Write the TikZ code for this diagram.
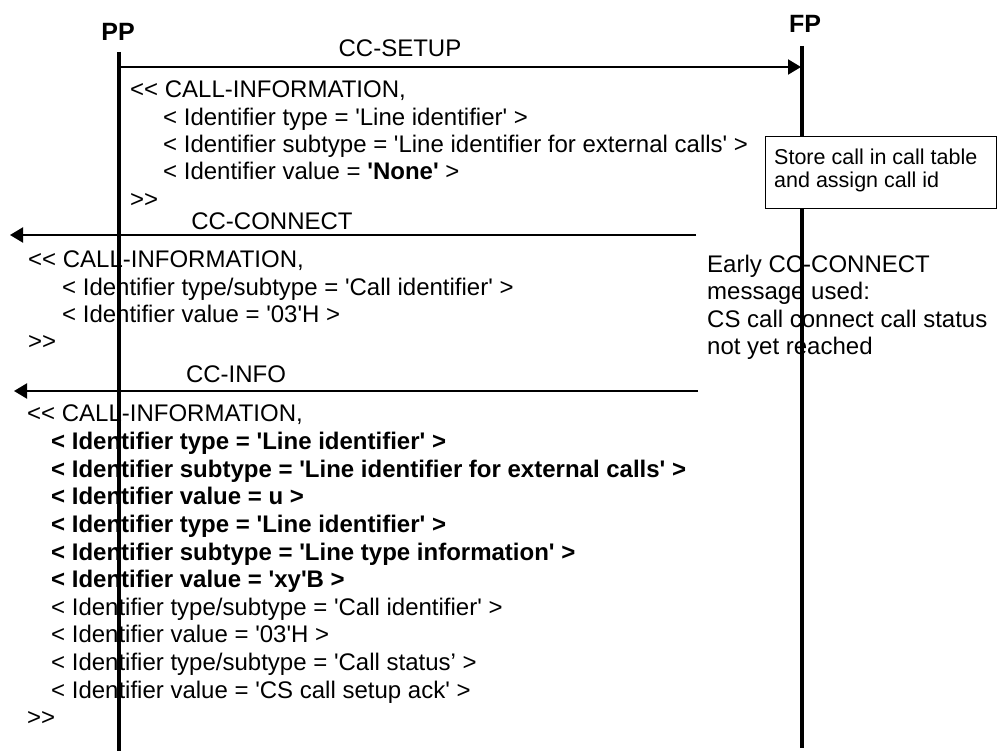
\documentclass[tikz,border=0pt]{standalone}
\usepackage{fontspec}
\setmainfont{Liberation Sans}
\usetikzlibrary{arrows.meta}
\newcommand\q{\textquotesingle}
\begin{document}
\begin{tikzpicture}[x=1pt,y=-1pt,
  txt/.style={anchor=base west,inner sep=0pt,font=\fontsize{24}{28}\selectfont},
  boxtxt/.style={anchor=base west,inner sep=0pt,font=\fontsize{21.5}{24}\selectfont},
  lbl/.style={anchor=base,inner sep=0pt,font=\fontsize{24}{28}\selectfont},
  ent/.style={anchor=base,inner sep=0pt,font=\fontsize{25}{28}\selectfont\bfseries},
  life/.style={line width=4pt},
  msg/.style={line width=2pt,-{Triangle[length=13pt,width=15pt]}},
  notebox/.style={draw,line width=1.2pt,fill=white,anchor=north west,inner sep=0pt,minimum width=231pt,minimum height=72pt}]
\useasboundingbox (0,0) rectangle (997,751);
% entity labels
\node[ent] (pp) at (118,41) {PP};
\node[ent] (fp) at (805,33) {FP};
% lifeline coordinates
\coordinate (pptop) at (119,52);
\coordinate (ppbot) at (119,751);
\coordinate (fptop) at (802,46);
\coordinate (fpbot) at (802,748);
% message endpoints
\coordinate (setupS) at (121,67);
\coordinate (setupE) at (801,67);
\coordinate (connS) at (696,235);
\coordinate (connE) at (10,235);
\coordinate (infoS) at (698,391);
\coordinate (infoE) at (14,391);
% message labels
\node[lbl] (lsetup) at (400,57) {CC-SETUP};
\node[lbl] (lconn) at (272,230) {CC-CONNECT};
\node[lbl] (linfo) at (236,383) {CC-INFO};
% CC-SETUP contents
\node[txt] (s1) at (130,98) {<{}< CALL-INFORMATION,};
\node[txt] (s2) at (163,125.3) {< Identifier type = \q Line identifier\q{} >};
\node[txt] (s3) at (163,152.6) {< Identifier subtype = \q Line identifier for external calls\q{} >};
\node[txt] (s4) at (163,179.9) {< Identifier value = \textbf{\q None\q} >};
\node[txt] (s5) at (130,207.2) {>{}>};
% CC-CONNECT contents
\node[txt] (c1) at (28,268) {<{}< CALL-INFORMATION,};
\node[txt] (c2) at (62,295.5) {< Identifier type/subtype = \q Call identifier\q{} >};
\node[txt] (c3) at (62,323) {< Identifier value = \q 03\q H >};
\node[txt] (c4) at (28,350) {>{}>};
% note
\node[txt] (e1) at (707,273) {Early CC-CONNECT};
\node[txt] (e2) at (707,300) {message used:};
\node[txt] (e3) at (707,327.5) {CS call connect call status};
\node[txt] (e4) at (707,354.5) {not yet reached};
% CC-INFO contents
\node[txt] (i1) at (27,422) {<{}< CALL-INFORMATION,};
\node[txt] (i2) at (51,449.6) {\bfseries < Identifier type = \q Line identifier\q{} >};
\node[txt] (i3) at (51,477.2) {\bfseries < Identifier subtype = \q Line identifier for external calls\q{} >};
\node[txt] (i4) at (51,504.8) {\bfseries < Identifier value = u >};
\node[txt] (i5) at (51,532.4) {\bfseries < Identifier type = \q Line identifier\q{} >};
\node[txt] (i6) at (51,560) {\bfseries < Identifier subtype = \q Line type information\q{} >};
\node[txt] (i7) at (51,587.6) {\bfseries < Identifier value = \q xy\q B >};
\node[txt] (i8) at (51,615.2) {< Identifier type/subtype = \q Call identifier\q{} >};
\node[txt] (i9) at (51,642.8) {< Identifier value = \q 03\q H >};
\node[txt] (i10) at (51,670.4) {< Identifier type/subtype = \q Call status’ >};
\node[txt] (i11) at (51,698) {< Identifier value = \q CS call setup ack\q{} >};
\node[txt] (i12) at (27,725.6) {>{}>};
% lifelines
\draw[life] (pptop) -- (ppbot);
\draw[life] (fptop) -- (fpbot);
% messages
\draw[msg] (setupS) -- (setupE);
\draw[msg] (connS) -- (connE);
\draw[msg] (infoS) -- (infoE);
% box
\node[notebox] (box) at (765,136) {};
\node[boxtxt] (b1) at (774,165) {Store call in call table};
\node[boxtxt] (b2) at (774,188) {and assign call id};
\end{tikzpicture}
\end{document}
